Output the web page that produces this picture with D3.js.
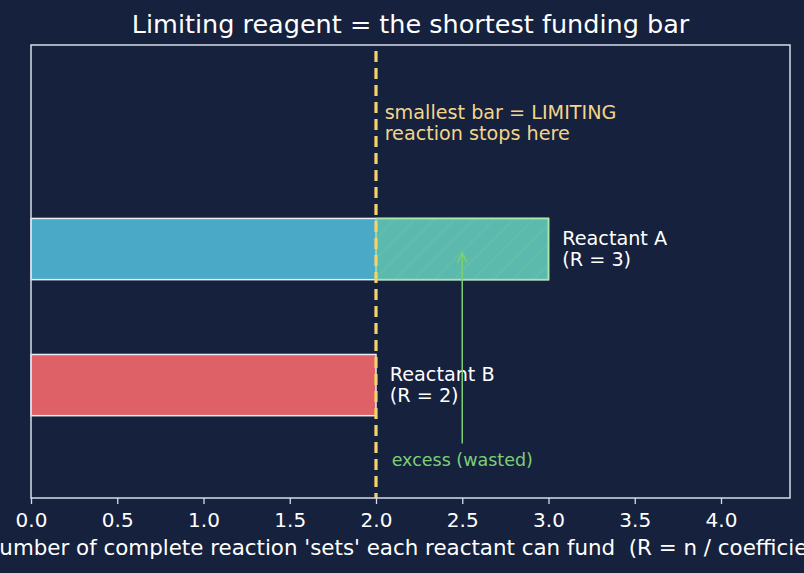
<!DOCTYPE html>
<html>
<head>
<meta charset="utf-8">
<script src="https://cdn.jsdelivr.net/npm/d3@7"></script>
<style>
  html, body { margin: 0; padding: 0; background: #16213e; }
  text { font-family: "DejaVu Sans", sans-serif; white-space: pre; }
</style>
</head>
<body>
<svg id="chart" width="804" height="573"></svg>
<script>
// data
const reactants = ["Reactant B", "Reactant A"];
const rValues = [2, 3];
const limitingR = 2;
const xTicks = [0, 0.5, 1.0, 1.5, 2.0, 2.5, 3.0, 3.5, 4.0];

const W = 804, H = 573;
const margin = { left: 31, right: 14, top: 45, bottom: 75 };
const barColors = { "Reactant B": "#de6168", "Reactant A": "#4ba9c8" };

const svg = d3.select("#chart");
svg.append("rect").attr("width", W).attr("height", H).attr("fill", "#16213e");

const x = d3.scaleLinear().domain([0, 4.4]).range([margin.left, W - margin.right]);
const y = d3.scaleLinear().domain([-0.83, 2.5]).range([H - margin.bottom, margin.top]);
const barH = 0.45;

// multi-line text block, first line offset by dy0
function label(px, py, lines, opts) {
    const t = svg.append("text")
        .attr("x", px).attr("y", py)
        .attr("fill", opts.color)
        .attr("font-size", opts.size)
        .attr("text-anchor", opts.anchor || "start");
    lines.forEach((s, k) => {
        t.append("tspan")
            .attr("x", px)
            .attr("dy", k === 0 ? (opts.dy0 || "0.35em") : "1.1em")
            .text(s);
    });
    return t;
}

// hatch pattern for the excess part
const defs = svg.append("defs");
const pat = defs.append("pattern")
    .attr("id", "hatch")
    .attr("patternUnits", "userSpaceOnUse")
    .attr("width", 14).attr("height", 14)
    .attr("patternTransform", "rotate(45)");
pat.append("line")
    .attr("x1", 0).attr("y1", 0).attr("x2", 0).attr("y2", 14)
    .attr("stroke", "#8fdc8f").attr("stroke-width", 1.2).attr("stroke-opacity", 0.35);

// bars
svg.selectAll("rect.bar")
    .data(reactants)
    .join("rect")
    .attr("class", "bar")
    .attr("x", x(0))
    .attr("y", (d, i) => y(i + barH / 2))
    .attr("width", (d, i) => x(rValues[i]) - x(0))
    .attr("height", y(0) - y(barH))
    .attr("fill", d => barColors[d])
    .attr("stroke", "#e8eef5")
    .attr("stroke-width", 1.5);

// excess region on bars longer than the limiting one
const excess = reactants.map((d, i) => ({ name: d, i, r: rValues[i] })).filter(d => d.r > limitingR);
svg.selectAll("rect.excess")
    .data(excess)
    .join("rect")
    .attr("class", "excess")
    .attr("x", x(limitingR))
    .attr("y", d => y(d.i + barH / 2))
    .attr("width", d => x(d.r) - x(limitingR))
    .attr("height", y(0) - y(barH))
    .attr("fill", "#7fd87f")
    .attr("fill-opacity", 0.35)
    .attr("stroke", "#a9e6ac")
    .attr("stroke-width", 1.5);
svg.selectAll("rect.hatch")
    .data(excess)
    .join("rect")
    .attr("class", "hatch")
    .attr("x", x(limitingR) + 1)
    .attr("y", d => y(d.i + barH / 2) + 1)
    .attr("width", d => x(d.r) - x(limitingR) - 2)
    .attr("height", y(0) - y(barH) - 2)
    .attr("fill", "url(#hatch)");

// labels next to bars
reactants.forEach((d, i) => {
    label(x(rValues[i] + 0.08), y(i), [d, `(R = ${rValues[i]})`],
        { color: "#ffffff", size: 19.2, dy0: "-0.2em" });
});

// limiting line
svg.append("line")
    .attr("x1", x(limitingR)).attr("x2", x(limitingR))
    .attr("y1", y(2.5)).attr("y2", y(-0.83))
    .attr("stroke", "#f6d36a")
    .attr("stroke-width", 3.2)
    .attr("stroke-dasharray", "11,6")
    .attr("stroke-dashoffset", -6);

// annotation
label(x(limitingR + 0.05), y(1.93), ["smallest bar = LIMITING", "reaction stops here"],
    { color: "#f3d58a", size: 19.2, dy0: "-0.2em" });

// arrow to the excess
defs.append("marker")
    .attr("id", "arrowhead")
    .attr("viewBox", "0 0 10 10")
    .attr("refX", 9).attr("refY", 5)
    .attr("markerWidth", 8).attr("markerHeight", 8)
    .attr("orient", "auto")
    .append("path")
    .attr("d", "M1,1 L9,5 L1,9")
    .attr("fill", "none")
    .attr("stroke", "#7ccf74")
    .attr("stroke-width", 1.3);
svg.append("line")
    .attr("x1", x(2.5)).attr("x2", x(2.5))
    .attr("y1", y(-0.43)).attr("y2", y(0.97))
    .attr("stroke", "#7ccf74")
    .attr("stroke-width", 1.5)
    .attr("marker-end", "url(#arrowhead)");
label(x(2.5), y(-0.55), ["excess (wasted)"], { color: "#7ccf74", size: 17.5, anchor: "middle" });

// frame
svg.append("rect")
    .attr("x", margin.left).attr("y", margin.top)
    .attr("width", W - margin.left - margin.right)
    .attr("height", H - margin.top - margin.bottom)
    .attr("fill", "none")
    .attr("stroke", "#d6dde8")
    .attr("stroke-width", 1.5);

// x axis
const xAxis = svg.append("g")
    .attr("transform", `translate(0,${H - margin.bottom})`)
    .call(d3.axisBottom(x).tickValues(xTicks).tickFormat(d3.format(".1f")).tickSize(6).tickPadding(9));
xAxis.select(".domain").remove();
xAxis.selectAll("line").attr("stroke", "#d6dde8").attr("stroke-width", 1.3);
xAxis.selectAll("text")
    .attr("fill", "#ffffff")
    .attr("font-size", 20)
    .attr("font-family", "DejaVu Sans, sans-serif");

label((x(0) + x(4.4)) / 2, 555, ["Number of complete reaction 'sets' each reactant can fund  (R = n / coefficient)"],
    { color: "#ffffff", size: 21.4, anchor: "middle", dy0: "0" });

label((x(0) + x(4.4)) / 2, 32.5, ["Limiting reagent = the shortest funding bar"],
    { color: "#ffffff", size: 25.5, anchor: "middle", dy0: "0" });
</script>
</body>
</html>
